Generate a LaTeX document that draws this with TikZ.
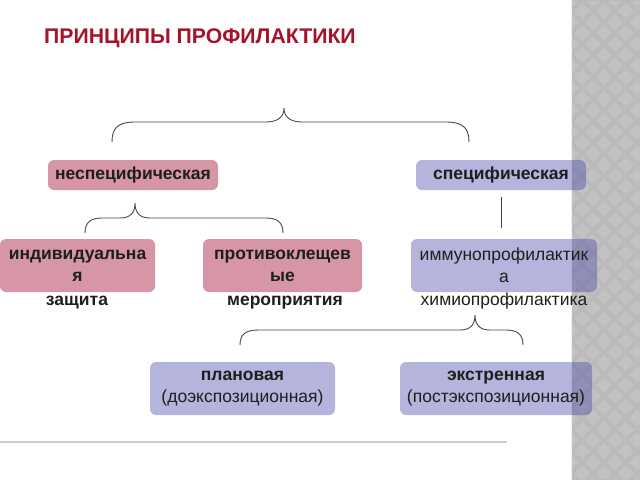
\documentclass[tikz,border=0pt]{standalone}
\usepackage{fontspec}
\setmainfont{Liberation Sans}
\definecolor{titlered}{RGB}{165,18,42}
\definecolor{pinkfill}{RGB}{214,150,165}
\definecolor{lavfill}{RGB}{67,67,167}
\definecolor{txtdark}{RGB}{30,30,30}
\definecolor{stripbase}{RGB}{186,186,186}
\definecolor{stripdia}{RGB}{194,194,194}
\definecolor{bracecol}{RGB}{70,70,70}
\definecolor{rulecol}{RGB}{205,205,205}
\tikzset{
  boxbase/.style={rounded corners=6pt, inner sep=0pt, align=center, text=txtdark,
    font=\fontsize{17.5}{22}\selectfont},
  pinkbox/.style={boxbase, fill=pinkfill},
  lavbox/.style={boxbase, fill=lavfill, fill opacity=0.4, text opacity=1},
  undertext/.style={text=txtdark, inner sep=0pt, font=\fontsize{17.5}{22}\selectfont},
  bracepath/.style={draw=bracecol, line width=0.9pt},
}
\begin{document}
\begin{tikzpicture}[x=1pt,y=-1pt]
\useasboundingbox (0,0) rectangle (640,480);
% gray strip
\fill[stripbase] (571,0) rectangle (640,480);
\begin{scope}
\clip (571,1) rectangle (640,478);
\foreach \i in {0,...,4}{
  \foreach \j in {0,...,44}{
    \pgfmathsetmacro{\cx}{571+22*\i+11*mod(\j,2)}
    \pgfmathsetmacro{\cy}{11*\j}
    \fill[stripdia] (\cx,\cy-8) -- (\cx+8,\cy) -- (\cx,\cy+8) -- (\cx-8,\cy) -- cycle;
  }
}
\end{scope}
\draw[white!90!gray, line width=1pt] (571.5,0) -- (571.5,480);
% title
\node[anchor=base west, inner sep=0pt, text=titlered, font=\fontsize{21.2}{25}\selectfont\bfseries] (title) at (44,43) {ПРИНЦИПЫ ПРОФИЛАКТИКИ};
% level 1
\node[pinkbox, minimum width=170pt, minimum height=30pt] (nsp) at (133,175) {\bfseries неспецифическая};
\node[lavbox, minimum width=170pt, minimum height=30pt] (sp) at (501,175) {\bfseries специфическая};
% level 2
\node[pinkbox, minimum width=155pt, minimum height=53pt] (ind) at (77.5,265.5) {\bfseries индивидуальна\\\bfseries я};
\node[pinkbox, minimum width=159pt, minimum height=53pt] (prot) at (282.5,265.5) {\bfseries противоклещев\\\bfseries ые};
\node[lavbox, minimum width=186pt, minimum height=53pt] (imm) at (504,265.5) {иммунопрофилактик\\а};
\node[undertext, anchor=base, font=\fontsize{17.5}{22}\selectfont\bfseries] (zash) at (77,305) {защита};
\node[undertext, anchor=base, font=\fontsize{17.5}{22}\selectfont\bfseries] (mer) at (285,305) {мероприятия};
\node[undertext, anchor=base] (him) at (504,305) {химиопрофилактика};
% level 3
\node[lavbox, minimum width=185pt, minimum height=53pt] (plan) at (242.5,388.5) {\bfseries плановая\\(доэкспозиционная)};
\node[lavbox, minimum width=192pt, minimum height=53pt] (ext) at (496,388.5) {\bfseries экстренная\\(постэкспозиционная)};
% braces
\coordinate (b1l) at (112,142); \coordinate (b1t) at (284,108); \coordinate (b1r) at (469,142);
\draw[bracepath] (b1l) .. controls (112,128) and (118,122) .. (135,122) -- (266,122)
  .. controls (279,122) and (284,116) .. (b1t)
  .. controls (284,116) and (289,122) .. (302,122) -- (446,122)
  .. controls (463,122) and (469,128) .. (b1r);
\coordinate (b2l) at (85,233); \coordinate (b2t) at (135,203); \coordinate (b2r) at (283,233);
\draw[bracepath] (b2l) .. controls (85,223) and (90,218) .. (102,218) -- (120,218)
  .. controls (131,218) and (135,212) .. (b2t)
  .. controls (135,212) and (139,218) .. (150,218) -- (266,218)
  .. controls (278,218) and (283,223) .. (b2r);
\coordinate (b3l) at (240,345); \coordinate (b3t) at (475,315); \coordinate (b3r) at (523,345);
\draw[bracepath] (b3l) .. controls (240,335) and (245,330) .. (258,330) -- (460,330)
  .. controls (471,330) and (475,324) .. (b3t)
  .. controls (475,324) and (479,330) .. (490,330) -- (506,330)
  .. controls (518,330) and (523,335) .. (b3r);
% vertical connector
\draw[bracepath, shorten <=7pt, shorten >=11pt] (sp.south) -- (sp.south |- imm.north);
% bottom rule
\coordinate (rl) at (0,442); \coordinate (rr) at (507,442);
\draw[rulecol, line width=1.3pt] (rl) -- (rr);
\end{tikzpicture}
\end{document}
